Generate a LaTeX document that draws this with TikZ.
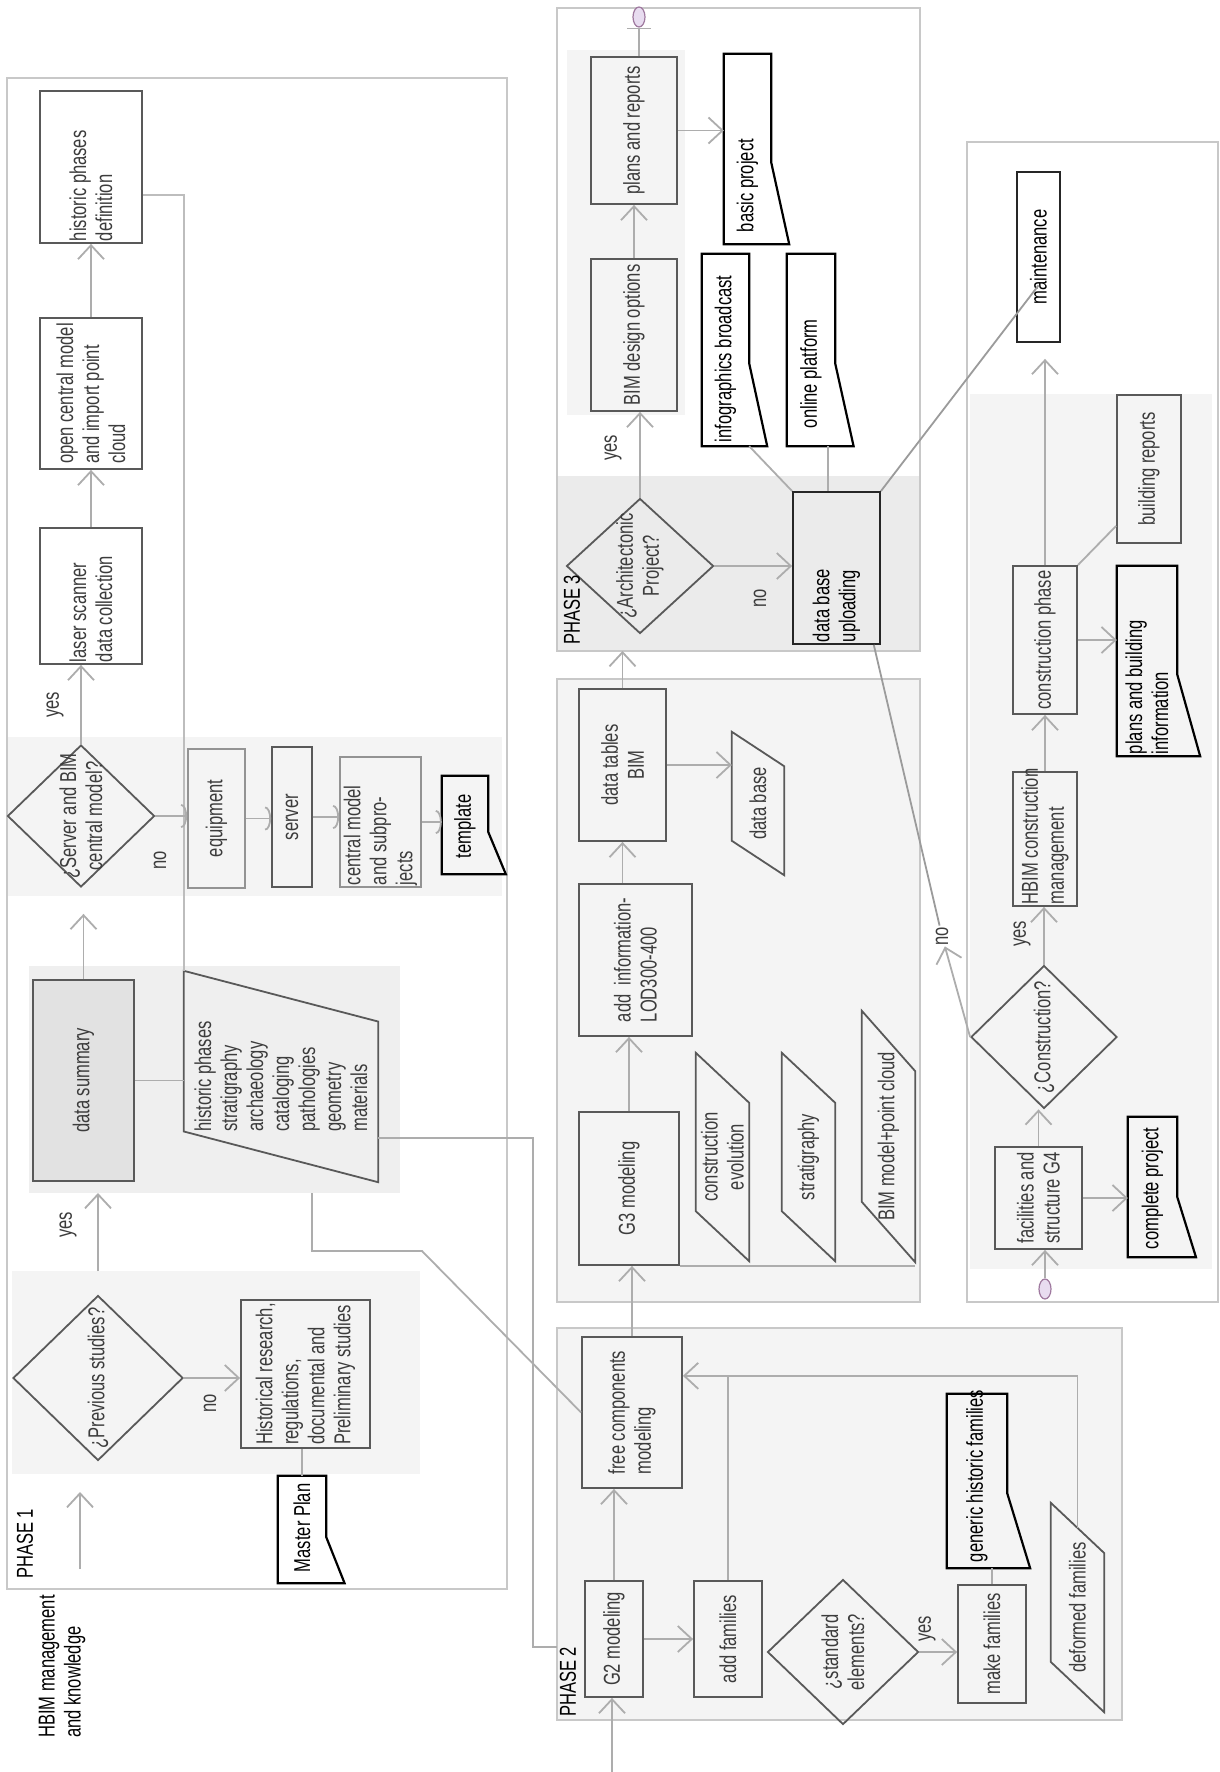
\documentclass[tikz,border=0pt]{standalone}
\usepackage{fontspec}
\setmainfont{Liberation Sans}[FakeStretch=0.72]
\usepackage{tikz}
\usetikzlibrary{arrows.meta,positioning,shapes.geometric,calc}
\definecolor{hbframe}{HTML}{C8C8C8}
\definecolor{hbpale}{HTML}{F4F4F4}
\definecolor{hbshade}{HTML}{EBEBEB}
\definecolor{hbsum}{HTML}{E2E2E2}
\definecolor{hbedge}{HTML}{595959}
\definecolor{hbwire}{HTML}{ADADAD}
\definecolor{hbtext}{HTML}{3C3C3C}
\definecolor{hbterm}{HTML}{E8DCF0}
\tikzset{
  frame/.style={draw=hbframe,line width=1.6pt,anchor=north west,inner sep=0pt,outer sep=0pt},
  region/.style={fill=#1,anchor=north west,inner sep=0pt,outer sep=0pt},
  box/.style={draw=hbedge,line width=1.8pt,rotate=90,align=center,inner sep=2pt,text=hbtext},
  boxk/.style={box,draw=black!85,text=black},
  lbox/.style={box,draw=hbedge!65},
  decision/.style={diamond,draw=hbedge,line width=1.8pt,rotate=90,align=center,inner sep=-12pt,text=hbtext},
  doc/.style 2 args={rotate=90,align=flush left,text width=#1,inner xsep=#2,inner ysep=2pt,text=black},
  para/.style={rotate=90,align=center,inner sep=1pt,text=hbtext},
  lbl/.style={rotate=90,inner sep=1pt,text=hbtext},
  term/.style={ellipse,draw=hbwire!70!violet,fill=hbterm,line width=1.2pt,minimum width=12pt,minimum height=20pt,inner sep=0pt},
  lnk/.style={draw=hbwire,line width=1.8pt},
  arr/.style={lnk,-{Straight Barb[length=14pt,width=26pt]}},
  arrs/.style={lnk,-{Arc Barb[length=6pt,width=24pt]}},
  docline/.style={draw=black,line width=2.2pt},
  paraline/.style={draw=hbedge,line width=1.8pt},
}
\newcommand\docoutline[1]{\draw[docline] (#1.north west) -- (#1.north east) -- (#1.south east)
  -- ($(#1.south east)!0.57!(#1.south west)$) -- ($(#1.south west)!-0.38!(#1.north west)$) -- cycle;}
\newcommand\paraoutline[1]{\draw[paraline] (#1.north east) -- ($(#1.south east)!0.24!(#1.south west)$)
  -- (#1.south west) -- ($(#1.north west)!0.24!(#1.north east)$) -- cycle;}

\begin{document}
\begin{tikzpicture}[x=1pt,y=-1pt,font=\fontsize{23}{26}\selectfont]
\useasboundingbox (0,0) rectangle (1219,1772);
% frames
\node[frame,fill=white,minimum width=500pt,minimum height=1511pt] (ph1) at (7,78) {};
\node[frame,fill=white,minimum width=363pt,minimum height=643pt] (ph3) at (557,8) {};
\node[frame,fill=hbpale,minimum width=363pt,minimum height=623pt] (bimfr) at (557,679) {};
\node[frame,fill=hbpale,minimum width=565pt,minimum height=392pt] (ph2) at (557,1328) {};
\node[frame,fill=white,minimum width=251pt,minimum height=1160pt] (confr) at (967,142) {};
% shaded regions
\node[region=hbpale,minimum width=408pt,minimum height=203pt] (rgprev) at (12,1271) {};
\node[region=hbpale!50!hbshade,minimum width=371pt,minimum height=227pt] (rgsum) at (29,966) {};
\node[region=hbpale,minimum width=494pt,minimum height=159pt] (rgsrv) at (8,737) {};
\node[region=hbpale,minimum width=118pt,minimum height=365pt] (rgdes) at (567,50) {};
\node[region=hbshade,minimum width=361pt,minimum height=174pt] (rgar) at (558,476) {};
\node[region=hbpale,minimum width=242pt,minimum height=875pt] (rgcon) at (970,394) {};

% phase 1
\node[box,align=flush left,text width=148pt,minimum width=152pt,minimum height=102pt] (histdef) at (91,167) {historic phases\\definition};
\node[box,align=left,minimum width=151pt,minimum height=102pt] (opencm) at (91,393.5) {open central model\\and import point\\cloud};
\node[box,align=flush left,text width=132pt,minimum width=136pt,minimum height=102pt] (laser) at (91,596) {laser scanner\\data collection};
\node[decision,minimum width=142pt,minimum height=147pt] (srvdia) at (81,816) {¿Server and BIM\\central model?};
\node[lbox,minimum width=139pt,minimum height=57pt] (equip) at (216.5,818.5) {equipment};
\node[box,minimum width=140pt,minimum height=40pt] (server) at (292,817) {server};
\node[lbox,align=flush left,text width=126pt,minimum width=130pt,minimum height=81pt] (cmodel) at (380.5,822) {central model\\and subpro-\\jects};
\node[doc={66pt}{16pt},minimum width=98pt,minimum height=46pt] (tmpl) at (465,825) {template};
\node[box,fill=hbsum,minimum width=201pt,minimum height=101pt] (sumbox) at (83.5,1080.5) {data summary};
\node[para,align=left,minimum width=211pt,minimum height=194pt] (histlist) at (281,1076.5)
 {historic phases\\stratigraphy\\archaeology\\cataloging\\pathologies\\geometry\\materials};
\node[decision,minimum width=165pt,minimum height=170pt] (prevdia) at (98,1378) {¿Previous studies?};
\node[box,align=left,minimum width=148pt,minimum height=129pt] (histres) at (305.5,1374)
 {Historical research,\\regulations,\\documental and\\Preliminary studies};
\node[doc={85pt}{11pt},minimum width=107pt,minimum height=48pt] (masterplan) at (302,1529.5) {\mbox{Master Plan}};
\node[lbl,anchor=west,text=black] (ph1lbl) at (25,1580) {PHASE 1};
\node[lbl,anchor=west,align=left,text=black] (hbimlbl) at (62,1739) {HBIM management\\and knowledge};

% phase 2
\node[box,minimum width=116pt,minimum height=58pt] (g2) at (614,1639) {G2 modeling};
\node[box,align=left,minimum width=151pt,minimum height=100pt] (freec) at (632,1412.5) {free components\\modeling};
\node[box,minimum width=116pt,minimum height=68pt] (addfam) at (728,1639) {add families};
\node[decision,minimum width=145pt,minimum height=151pt] (stddia) at (843,1652) {¿standard\\elements?};
\node[box,minimum width=118pt,minimum height=68pt] (makefam) at (992,1644) {make families};
\node[doc={162pt}{6pt},minimum width=174pt,minimum height=60pt] (generic) at (977,1481) {\mbox{generic historic families}};
\node[para,minimum width=209pt,minimum height=53pt] (deformed) at (1077.5,1607.5) {deformed families};
\node[lbl,anchor=west,text=black] (ph2lbl) at (568,1718) {PHASE 2};

% G3 block
\node[box,minimum width=153pt,minimum height=100pt] (g3) at (629,1188.5) {G3 modeling};
\node[box,align=left,minimum width=152pt,minimum height=113pt] (addinfo) at (635.5,960) {add\ \ information-\\LOD300-400};
\node[box,minimum width=152pt,minimum height=87pt] (dtab) at (622.5,765) {data tables\\BIM};
\node[para,minimum width=143pt,minimum height=52pt] (database) at (758,803.5) {data base};
\node[para,minimum width=208pt,minimum height=53pt] (conevo) at (722.5,1157) {construction\\evolution};
\node[para,minimum width=208pt,minimum height=53pt] (strat) at (808.5,1157) {stratigraphy};
\node[para,minimum width=251pt,minimum height=53pt] (bimpc) at (888.5,1136.5) {BIM model+point cloud};

% phase 3
\node[decision,minimum width=135pt,minimum height=147pt] (ardia) at (640,566) {¿Architectonic\\Project?};
\node[lbl,anchor=west,text=black] (ph3lbl) at (572,646) {PHASE 3};
\node[box,minimum width=152pt,minimum height=86pt] (bimdes) at (634,335) {BIM design options};
\node[box,minimum width=147pt,minimum height=86pt] (plans) at (634,130.5) {plans and reports};
\node[term] (endp) at (639,17) {};
\node[doc={166pt}{12pt},minimum width=190pt,minimum height=47pt] (basicp) at (747.5,149) {basic project};
\node[doc={184pt}{4pt},minimum width=192pt,minimum height=47pt] (infog) at (725.5,350) {infographics broadcast};
\node[doc={156pt}{18pt},minimum width=192pt,minimum height=48pt] (online) at (811,350) {online platform};
\node[boxk,align=flush left,text width=148pt,minimum width=152pt,minimum height=87pt] (dbup) at (836.5,568) {data base\\uploading};

% construction
\node[boxk,minimum width=170pt,minimum height=43pt] (maint) at (1038.5,257) {maintenance};
\node[decision,minimum width=143pt,minimum height=146pt] (condia) at (1044,1037) {¿Construction?};
\node[box,align=left,minimum width=102pt,minimum height=87pt] (facil) at (1038.5,1198) {facilities and\\structure G4};
\node[term] (endc) at (1045,1289) {};
\node[doc={124pt}{8pt},minimum width=140pt,minimum height=49pt] (complete) at (1152.5,1187) {\mbox{complete project}};
\node[box,align=flush left,text width=130pt,minimum width=134pt,minimum height=64pt] (hbimcm) at (1045,839) {\mbox{HBIM construction}\\management};
\node[box,minimum width=148pt,minimum height=64pt] (conph) at (1045,640) {construction phase};
\node[doc={186pt}{2pt},minimum width=190pt,minimum height=60pt] (plansb) at (1147,661) {plans and building\\information};
\node[box,minimum width=148pt,minimum height=64pt] (bldrep) at (1149,469) {building reports};

% yes / no
\node[lbl] (yes1) at (68,1225) {yes};
\node[lbl] (no1) at (210,1403) {no};
\node[lbl] (yes2) at (55,705) {yes};
\node[lbl] (no2) at (160,860) {no};
\node[lbl] (yes3) at (613,448) {yes};
\node[lbl] (no3) at (760,598) {no};
\node[lbl] (yes4) at (927,1629) {yes};
\node[lbl] (yes5) at (1022,934) {yes};
\node[lbl] (no5) at (942,936) {no};

\foreach \dn in {tmpl,masterplan,basicp,infog,online,generic,complete,plansb} {\docoutline{\dn}}
\foreach \pn in {histlist,database,conevo,strat,bimpc,deformed} {\paraoutline{\pn}}

% loose ends
\coordinate (start1) at (80,1569);
\coordinate (start2) at (612,1772);
\coordinate (sumout) at (312,1193);
\coordinate (diagbend) at (422,1251);
\coordinate (p2bend) at (533,1647);
\coordinate (loopin) at ($(freec.south east)!0.26!(freec.south west)$);
\coordinate (onlout) at ($(online.west)!0.7!(online.south west)$);

% connectors phase 1
\draw[arr,shorten >=18pt] (start1) -- (start1 |- rgprev.south);
\draw[arr] (prevdia.south) -- (prevdia.south -| histres.north);
\draw[lnk] (masterplan.east) -- (masterplan.east |- histres.west);
\draw[arr] (rgprev.north -| prevdia) -- (rgsum.south -| prevdia);
\draw[arr,shorten >=26pt] (sumbox.east) -- (sumbox.east |- srvdia.west);
\draw[arr] (srvdia.east) -- (srvdia.east |- laser.west);
\draw[arr] (laser.east) -- (opencm.west);
\draw[arr] (opencm.east) -- (histdef.west);
\draw[lnk,hbwire!80] ($(histdef.south east)!0.68!(histdef.south west)$) -| (histlist.north east);
\draw[lnk] (sumbox.south) -- (sumbox.south -| histlist.north);
\draw[arrs] (srvdia.south) -- (srvdia.south -| equip.north);
\draw[arrs] (equip.south) -- (equip.south -| server.north);
\draw[arrs] (server.south) -- (server.south -| cmodel.north);
\draw[arrs] (cmodel.south) -- (cmodel.south -| tmpl.north);
\draw[lnk] ($(histlist.south east)!0.79!(histlist.south west)$) -| (p2bend) -- (p2bend -| ph2.west);
\draw[lnk] (sumout) |- (diagbend) -- (freec.north);

% connectors phase 2
\draw[arr] (start2) -- (start2 |- g2.west);
\draw[arr] (g2.east) -- (g2.east |- freec.west);
\draw[arr] (g2.south) -- (g2.south -| addfam.north);
\draw[arr] ($(deformed.east)!0.12!(deformed.west)$) |- (loopin);
\draw[lnk] (addfam.east) -- (addfam.east |- loopin);
\draw[arr] (stddia.south) -- (stddia.south -| makefam.north);
\draw[lnk] (makefam.east) -- (makefam.east |- generic.west);
\draw[arr] (freec.east) -- (freec.east |- g3.west);

% connectors G3 block
\draw[arr] (g3.east) -- (g3.east |- addinfo.west);
\draw[arr] (addinfo.east -| dtab) -- (dtab.west);
\draw[arr] (dtab.south) -- (dtab.south -| database.north);
\draw[lnk] (g3.south west) -- (g3.south west -| bimpc.south west);
\draw[arr] (dtab.east) -- (dtab.east |- ph3.south);

% connectors phase 3
\draw[arr] (ardia.east) -- (ardia.east |- bimdes.west);
\draw[arr] (bimdes.east) -- (plans.west);
\draw[lnk,-{Bar[width=24pt]}] (plans.east -| endp) -- (endp.south);
\draw[arr] (plans.south) -- (plans.south -| basicp.north);
\draw[arr] (ardia.south) -- (ardia.south -| dbup.north);
\draw[lnk] (infog.south west) -- (dbup.north east);
\draw[lnk] (onlout) -- (onlout |- dbup.east);
\draw[lnk,hbedge!60] (dbup.south east) -- ($(maint.center)!0.33!(maint.west)$);
\draw[lnk,hbedge!60] ($(dbup.west)!0.84!(dbup.south west)$) -- (no5);
\draw[arr] (condia.north) -- (no5);

% connectors construction
\draw[arr] (endc) -- (endc |- facil.west);
\draw[arr] (facil.east) -- (facil.east |- condia.west);
\draw[arr] (facil.south) -- (facil.south -| complete.north);
\draw[arr] (condia.east) -- (condia.east |- hbimcm.west);
\draw[arr] (hbimcm.east) -- (conph.west);
\draw[arr] (conph.south) -- (conph.south -| plansb.north);
\draw[arr,shorten >=16pt] (conph.east) -- (conph.east |- maint.west);
\draw[lnk] (conph.south east) -- ($(bldrep.north west)!0.12!(bldrep.north east)$);
\end{tikzpicture}
\end{document}
